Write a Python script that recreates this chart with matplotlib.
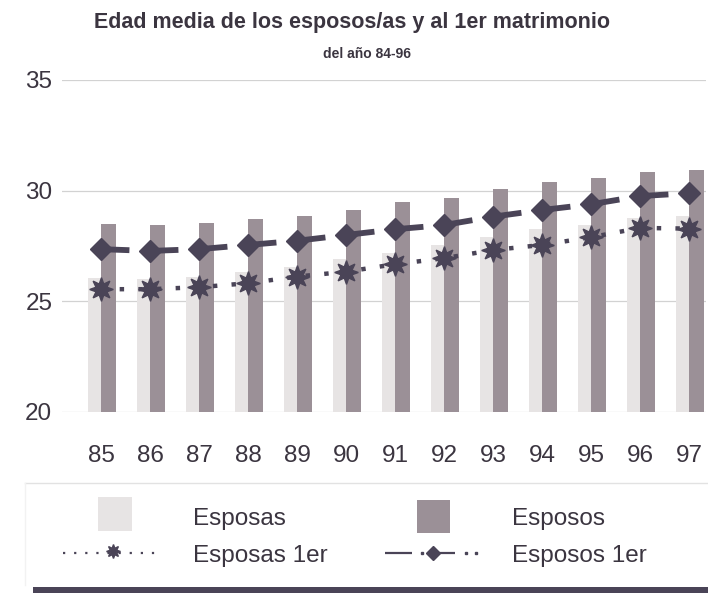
import numpy as np
import matplotlib
matplotlib.use("Agg")
import matplotlib.pyplot as plt
from matplotlib.patches import Rectangle
from matplotlib.lines import Line2D

plt.rcParams['font.family'] = ['Liberation Sans', 'DejaVu Sans']

# ---- data ----
years = ['85', '86', '87', '88', '89', '90', '91', '92', '93', '94', '95', '96', '97']
esposas = [26.03, 26.00, 26.08, 26.33, 26.56, 26.91, 27.16, 27.54, 27.89, 28.26, 28.44, 28.77, 28.86]
esposos = [28.48, 28.43, 28.52, 28.70, 28.86, 29.11, 29.50, 29.67, 30.06, 30.40, 30.58, 30.84, 30.93]
esposas_1er = [25.54, 25.54, 25.63, 25.81, 26.11, 26.33, 26.67, 26.94, 27.31, 27.54, 27.89, 28.31, 28.28]
esposos_1er = [27.35, 27.27, 27.35, 27.54, 27.73, 27.99, 28.25, 28.44, 28.82, 29.12, 29.38, 29.75, 29.88]
yticks = [20, 25, 30, 35]
title = "Edad media de los esposos/as y al 1er matrimonio"
subtitle = "del año 84-96"
legend_labels = ["Esposas", "Esposos", "Esposas 1er", "Esposos 1er"]

# ---- style ----
W, H = 708, 596
C_LIGHT = '#e7e4e4'
C_DARK = '#9b9097'
C_MARK = '#4a4457'
C_TEXT = '#3b3540'
C_GRID = '#d2d2d2'

fig = plt.figure(figsize=(W / 100, H / 100), dpi=100)
fig.patch.set_facecolor('white')

def fx(px):
    return px / W

def fy(py):
    return 1 - py / H

ax_l, ax_r, ax_t, ax_b = 62, 706, 80, 411.7
ax = fig.add_axes([fx(ax_l), fy(ax_b), fx(ax_r - ax_l), (ax_b - ax_t) / H])

x = np.arange(len(years))
ax.bar(x, np.array(esposas) - 20, bottom=20, width=-0.27, align='edge', color=C_LIGHT, zorder=2)
ax.bar(x, np.array(esposos) - 20, bottom=20, width=0.30, align='edge', color=C_DARK, zorder=3)

# Esposas 1er: dotted line with star markers
ax.plot(x, esposas_1er, color=C_MARK, lw=3.2, linestyle=(0, (1.0, 3.2)),
        dash_capstyle='butt', zorder=4)
ax.plot(x, esposas_1er, linestyle='none', marker=(8, 1, 0), markersize=17,
        color=C_MARK, zorder=5)

# Esposos 1er: dash after each diamond
e1 = np.array(esposos_1er)
frac = 0.58
xs, ys = [], []
for i in range(len(x) - 1):
    xs += [x[i], x[i] + frac, np.nan]
    ys += [e1[i], e1[i] + frac * (e1[i + 1] - e1[i]), np.nan]
ax.plot(xs, ys, color=C_MARK, lw=4.2, solid_capstyle='butt', zorder=4)
ax.plot(x, e1, linestyle='none', marker='D', markersize=11, color=C_MARK, zorder=5)

ax.set_xlim(-(101 - ax_l) / 49, (ax_r - 101) / 49)
ax.set_ylim(20, 35)
ax.set_yticks(yticks)
ax.set_xticks(x)
ax.set_xticklabels(years)
ax.grid(axis='y', color=C_GRID, lw=0.9, zorder=0)
ax.set_axisbelow(True)
for s in ax.spines.values():
    s.set_visible(False)
ax.tick_params(axis='both', length=0, labelsize=17.5, colors=C_TEXT)
ax.tick_params(axis='x', pad=24)
ax.tick_params(axis='y', pad=7)
ax.set_facecolor('none')

# titles
fig.text(fx(352), fy(28), title, ha='center', va='baseline', fontsize=15.5,
         fontweight='bold', color=C_TEXT)
fig.text(fx(367), fy(58), subtitle, ha='center', va='baseline', fontsize=10,
         fontweight='bold', color=C_TEXT)

# legend area (overlay in pixel coordinates)
lg = fig.add_axes([0, 0, 1, 1])
lg.set_xlim(0, W)
lg.set_ylim(H, 0)
lg.axis('off')
lg.patch.set_alpha(0)
lg.plot([25, 708], [483, 483], color='#e2e2e2', lw=1)
lg.plot([25, 25], [483, 585], color='#f2f2f2', lw=1)
lg.add_patch(Rectangle((33, 587), 675, 6, color=C_MARK, lw=0))

lg.add_patch(Rectangle((98, 497), 34, 34, color=C_LIGHT, lw=0))
lg.add_patch(Rectangle((417, 500), 33, 33, color=C_DARK, lw=0))

# Esposas 1er sample
lg.add_line(Line2D([63, 163], [553, 553], color=C_MARK, lw=1.6,
                   linestyle=(0, (1, 4))))
lg.plot([113], [551], marker=(8, 1, 0), markersize=10, color=C_MARK)
# Esposos 1er sample
lg.plot([385, 412], [553, 553], color=C_MARK, lw=1.6, solid_capstyle='butt')
lg.plot([422, 466, 476], [553, 553, 553], linestyle='none', marker='s',
        markersize=1.6, color=C_MARK)
lg.plot([433, 455], [553, 553], color=C_MARK, lw=1.6, solid_capstyle='butt')
lg.plot([433], [553], marker='D', markersize=7, color=C_MARK)

lg.text(193, 525, legend_labels[0], fontsize=17.5, color=C_TEXT, va='baseline')
lg.text(512, 525, legend_labels[1], fontsize=17.5, color=C_TEXT, va='baseline')
lg.text(193, 562, legend_labels[2], fontsize=17.5, color=C_TEXT, va='baseline')
lg.text(512, 562, legend_labels[3], fontsize=17.5, color=C_TEXT, va='baseline')

fig.savefig('out.png', dpi=100, facecolor='white')
